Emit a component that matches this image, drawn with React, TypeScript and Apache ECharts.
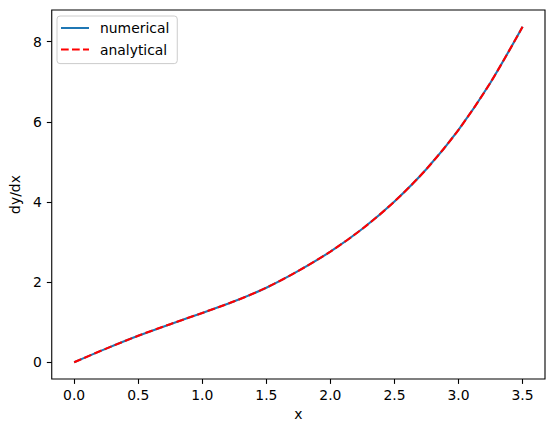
import React, { useEffect, useRef } from "react";
import * as echarts from "echarts";

const xValues = [0, 0.25, 0.5, 0.75, 1.0, 1.25, 1.5, 1.75, 2.0, 2.25, 2.5, 2.75, 3.0, 3.25, 3.5];
const numericalValues = [0, 0.34, 0.66, 0.95, 1.23, 1.52, 1.86, 2.28, 2.76, 3.33, 4.01, 4.82, 5.8, 6.98, 8.37];
const analyticalValues = [0, 0.34, 0.66, 0.95, 1.23, 1.52, 1.86, 2.28, 2.76, 3.33, 4.01, 4.82, 5.8, 6.98, 8.37];
const xTicks = [0, 0.5, 1.0, 1.5, 2.0, 2.5, 3.0, 3.5];
const yTicks = [0, 2, 4, 6, 8];

const FONT = "DejaVu Sans";
const FS = 13.9;

export default function App() {
  const ref = useRef<HTMLDivElement>(null);
  useEffect(() => {
    if (!ref.current) return;
    const chart = echarts.init(ref.current, null, { renderer: "svg" });
    const num = xValues.map((x, i) => [x, numericalValues[i]]);
    const ana = xValues.map((x, i) => [x, analyticalValues[i]]);
    chart.setOption({
      animation: false,
      backgroundColor: "#ffffff",
      textStyle: { fontFamily: FONT },
      grid: {
        left: 49,
        top: 10,
        width: 496,
        height: 369,
        show: true,
        borderColor: "#000000",
        borderWidth: 1.1,
        backgroundColor: "transparent",
        containLabel: false,
      },
      legend: {
        orient: "vertical",
        left: 57,
        top: 16,
        padding: [5, 8, 7, 3],
        itemWidth: 28,
        itemHeight: 14,
        itemGap: 7.6,
        align: "left",
        backgroundColor: "#ffffff",
        borderColor: "#cccccc",
        borderWidth: 1,
        borderRadius: 3,
        itemStyle: { color: "rgba(0,0,0,0)", borderColor: "rgba(0,0,0,0)", borderWidth: 0, opacity: 0 },
        textStyle: { fontFamily: FONT, fontSize: FS, color: "#000000", padding: [0, 0, 0, 6] },
        data: ["numerical", "analytical"],
      },
      xAxis: {
        type: "value",
        min: -0.175,
        max: 3.675,
        name: "x",
        nameLocation: "middle",
        nameGap: 27,
        nameTextStyle: { fontFamily: FONT, fontSize: FS, color: "#000000" },
        axisLine: { show: false, onZero: false },
        splitLine: { show: false },
        axisTick: {
          show: true,
          customValues: xTicks,
          length: 4.9,
          lineStyle: { color: "#000000", width: 1.1 },
        },
        axisLabel: {
          customValues: xTicks,
          margin: 9,
          fontFamily: FONT,
          fontSize: FS,
          color: "#000000",
          formatter: (v: number) => v.toFixed(1),
        },
      },
      yAxis: {
        type: "value",
        min: -0.4185,
        max: 8.7885,
        name: "dy/dx",
        nameLocation: "middle",
        nameGap: 25,
        nameRotate: 90,
        nameTextStyle: { fontFamily: FONT, fontSize: FS, color: "#000000" },
        axisLine: { show: false, onZero: false },
        splitLine: { show: false },
        axisTick: {
          show: true,
          customValues: yTicks,
          length: 4.9,
          lineStyle: { color: "#000000", width: 1.1 },
        },
        axisLabel: {
          customValues: yTicks,
          margin: 10,
          fontFamily: FONT,
          fontSize: FS,
          color: "#000000",
          formatter: (v: number) => String(v),
        },
      },
      series: [
        {
          name: "numerical",
          type: "line",
          data: num,
          symbol: "none",
          smooth: 0.3,
          lineStyle: { color: "#1f77b4", width: 2.1 },
          itemStyle: { color: "#1f77b4" },
          z: 2,
        },
        {
          name: "analytical",
          type: "line",
          data: ana,
          symbol: "none",
          smooth: 0.3,
          lineStyle: { color: "#ff0000", width: 2.1, type: [7.7, 3.3] },
          itemStyle: { color: "#ff0000" },
          z: 3,
        },
      ],
    });
    return () => chart.dispose();
  }, []);
  return (
    <div
      ref={ref}
      style={{ position: "absolute", left: 0, top: 0, width: 554, height: 432 }}
    />
  );
}
